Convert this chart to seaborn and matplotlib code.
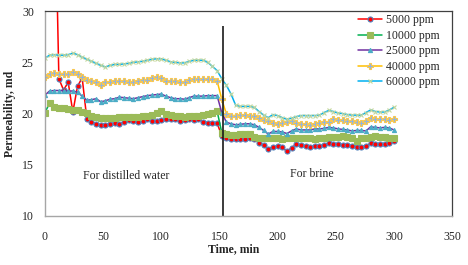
import numpy as np
import pandas as pd
import seaborn as sns
import matplotlib.pyplot as plt

# time grid (min) - readings every 4 minutes
time_min = [0, 4, 8, 12, 16, 20, 24, 28, 32, 36, 40, 44, 48, 52, 56, 60, 64, 68, 72, 76,
            80, 84, 88, 92, 96, 100, 104, 108, 112, 116, 120, 124, 128, 132, 136, 140, 144, 148,
            152, 156, 160, 164, 168, 172, 176, 180, 184, 188, 192, 196, 200, 204, 208, 212,
            216, 220, 224, 228, 232, 236, 240, 244, 248, 252, 256, 260, 264, 268, 272, 276,
            280, 284, 288, 292, 296, 300]

# permeability (md)
ppm_5000 = [60, 55, 45, 23.4, 22.3, 23.05, 20.15, 22.65, 23.5, 19.5, 19.15, 19.0, 18.85, 18.9,
            19.0, 19.05, 19.0, 19.15, 19.35, 19.25, 19.15, 19.25, 19.45, 19.3, 19.25, 19.35,
            19.45, 19.5, 19.5, 19.25, 19.35, 19.5, 19.35, 19.45, 19.2, 19.1, 19.05, 19.05,
            17.85, 17.65, 17.55, 17.55, 17.5, 17.55, 17.65, 17.55, 17.1, 16.9, 16.5, 16.75,
            16.8, 16.7, 16.3, 16.65, 17.0, 16.9, 16.85, 16.75, 16.8, 16.85, 16.9, 17.1, 17.05,
            17.0, 16.9, 16.9, 16.85, 16.75, 16.75, 16.85, 17.1, 17.05, 17.0, 17.0, 17.1, 17.3]
ppm_10000 = [20.1, 21.0, 20.6, 20.55, 20.55, 20.45, 20.35, 20.3, 20.2, 20.05, 19.8, 19.65, 19.6,
             19.55, 19.55, 19.6, 19.65, 19.65, 19.7, 19.7, 19.7, 19.75, 19.8, 19.9, 20.1, 20.25,
             19.95, 19.85, 19.8, 19.75, 19.7, 19.75, 19.8, 19.8, 19.9, 20.0, 20.1, 20.25,
             18.15, 18.0, 17.95, 17.95, 18.0, 18.0, 18.0, 17.7, 17.6, 17.6, 17.6, 17.65, 17.6,
             17.5, 17.6, 17.65, 17.65, 17.6, 17.65, 17.6, 17.5, 17.6, 17.65, 17.7, 17.7, 17.75,
             17.8, 17.7, 17.65, 17.3, 17.6, 17.65, 17.75, 17.8, 17.75, 17.7, 17.65, 17.65]
ppm_25000 = [21.8, 22.2, 22.25, 22.25, 22.25, 22.2, 22.2, 22.1, 21.7, 21.3, 21.35, 21.45, 21.15,
             21.25, 21.4, 21.45, 21.6, 21.55, 21.5, 21.45, 21.55, 21.65, 21.75, 21.8, 21.85,
             21.9, 21.7, 21.55, 21.45, 21.45, 21.4, 21.55, 21.7, 21.7, 21.7, 21.75, 21.75, 21.75,
             20.1, 19.15, 19.0, 18.9, 18.95, 19.0, 19.0, 18.9, 18.65, 18.35, 18.0, 18.25, 18.25,
             18.2, 18.05, 18.3, 18.5, 18.4, 18.4, 18.4, 18.5, 18.5, 18.55, 18.65, 18.6, 18.5,
             18.45, 18.4, 18.3, 18.35, 18.35, 18.3, 18.7, 18.65, 18.6, 18.65, 18.6, 18.4]
ppm_40000 = [23.6, 23.9, 23.95, 23.9, 23.9, 23.85, 24.05, 23.9, 23.6, 23.3, 23.15, 23.05, 22.8,
             23.05, 23.1, 23.2, 23.2, 23.2, 23.1, 23.05, 23.2, 23.25, 23.3, 23.45, 23.55, 23.5,
             23.2, 23.2, 23.15, 23.1, 23.05, 23.3, 23.4, 23.4, 23.35, 23.4, 23.4, 23.2,
             21.4, 19.95, 19.8, 19.8, 19.85, 19.85, 19.8, 19.8, 19.55, 19.35, 19.25, 19.1, 19.0,
             19.05, 19.2, 19.25, 19.1, 19.0, 18.95, 18.9, 19.0, 19.05, 19.15, 19.2, 19.45, 19.4,
             19.35, 19.3, 19.25, 19.15, 19.1, 19.3, 19.55, 19.5, 19.45, 19.45, 19.4, 19.45]
ppm_60000 = [25.4, 25.7, 25.75, 25.7, 25.7, 25.75, 25.9, 25.75, 25.5, 25.3, 25.1, 24.9, 24.7,
             24.55, 24.7, 24.8, 24.8, 24.85, 24.9, 25.0, 25.05, 25.1, 25.2, 25.3, 25.35, 25.35,
             25.2, 25.05, 25.0, 24.95, 24.95, 25.1, 25.2, 25.2, 25.2, 25.0, 24.6, 24.2,
             23.4, 22.75, 21.9, 20.8, 20.7, 20.7, 20.7, 20.6, 20.2, 19.85, 19.6, 19.9, 19.8,
             19.6, 19.45, 19.55, 19.7, 19.8, 19.8, 19.8, 19.8, 19.85, 20.1, 20.3, 20.2, 20.05,
             20.0, 19.9, 19.85, 19.85, 19.85, 20.1, 20.35, 20.2, 20.15, 20.15, 20.35, 20.6]

labels = ["5000 ppm", "10000 ppm", "25000 ppm", "40000 ppm", "60000 ppm"]
divider_time = 152.8
divider_top = 28.5

sns.set_style("white")
plt.rcParams['font.family'] = ['Liberation Serif', 'DejaVu Serif']

fig = plt.figure(figsize=(4.68, 2.65), dpi=100)
ax = fig.add_axes([0.096, 0.185, 0.870, 0.773])

# line colour, marker, face, edge, size
styles = [
    ("#FF0000", "o", "#FF0000", "#4F81BD", 3.6),
    ("#00B050", "s", "#9BBB59", "#9BBB59", 3.9),
    ("#7030A0", "^", "#4BACC6", "#4BACC6", 3.0),
    ("#FFC000", "P", "#8EB4E3", "#F9C74F", 4.2),
    ("#00B0F0", "x", "#C3D69B", "#C3D69B", 3.4),
]
series = [ppm_5000, ppm_10000, ppm_25000, ppm_40000, ppm_60000]

for vals, lab, (lc, mk, mf, me, ms) in zip(series, labels, styles):
    sns.lineplot(x=time_min, y=vals, ax=ax, color=lc, lw=1.1, marker=mk,
                 markerfacecolor=mf, markeredgecolor=me, markersize=ms,
                 markeredgewidth=0.8, label=lab, legend=False)

ax.vlines(divider_time, 10, divider_top, color="#1a1a1a", lw=1.2)

ax.text(70, 13.9, "For distilled water", ha="center", va="center", fontsize=8.5)
ax.text(229, 14.1, "For brine", ha="center", va="center", fontsize=8.5)

ax.set_xlim(0, 350)
ax.set_ylim(10, 30)
ax.set_xticks(range(0, 351, 50))
ax.set_yticks(range(10, 31, 5))
ax.tick_params(axis="both", labelsize=8.5, direction="out", length=3, width=0.8,
               color="#A6A6A6", pad=5)
ax.tick_params(axis="x", pad=8)

for side in ["left", "bottom"]:
    ax.spines[side].set_color("#A6A6A6")
    ax.spines[side].set_linewidth(1.0)
for side in ["top", "right"]:
    ax.spines[side].set_color("#404040")
    ax.spines[side].set_linewidth(0.9)

ax.set_xlabel("Time, min", fontsize=8.5, fontweight="bold")
ax.xaxis.set_label_coords(0.464, -0.135)
ax.set_ylabel("Permeability, md", fontsize=8.5, fontweight="bold")
ax.yaxis.set_label_coords(-0.07, 0.5)

leg = ax.legend(loc="upper left", bbox_to_anchor=(0.77, 0.985), frameon=False,
                fontsize=8.5, handlelength=2.0, handletextpad=0.3, labelspacing=0.3,
                borderaxespad=0, borderpad=0)

fig.savefig("out.png", dpi=100)
